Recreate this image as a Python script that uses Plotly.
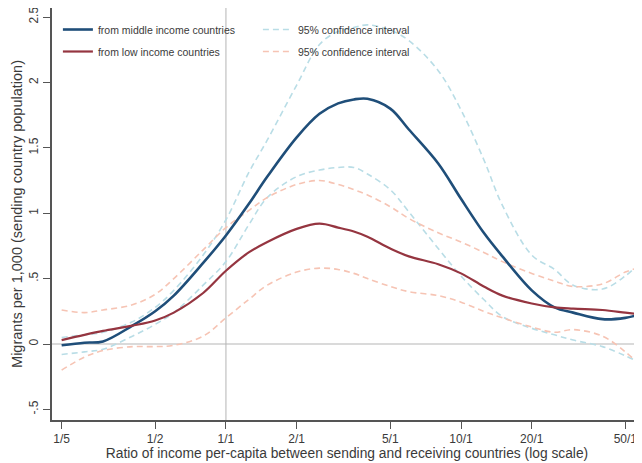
import plotly.graph_objects as go

# Ratio of income per-capita (sending / receiving), log scale
ratio = [0.2, 0.25, 0.3, 0.4, 0.5, 0.6, 0.8, 1, 1.25, 1.5, 2, 2.5, 3, 3.5, 4, 5, 6, 8,
         10, 12.5, 15, 20, 25, 30, 40, 50, 56]

middle = [-0.01, 0.01, 0.02, 0.14, 0.25, 0.37, 0.62, 0.83, 1.07, 1.28, 1.58, 1.76, 1.84,
          1.87, 1.875, 1.80, 1.64, 1.38, 1.11, 0.85, 0.67, 0.41, 0.28, 0.24, 0.19, 0.20, 0.22]
middle_hi = [0.05, 0.07, 0.09, 0.17, 0.28, 0.41, 0.68, 0.95, 1.31, 1.56, 1.98, 2.29, 2.39,
             2.42, 2.44, 2.40, 2.32, 2.09, 1.79, 1.41, 1.06, 0.68, 0.57, 0.45, 0.42, 0.52, 0.60]
middle_lo = [-0.08, -0.06, -0.04, 0.06, 0.15, 0.24, 0.45, 0.63, 0.91, 1.12, 1.28, 1.33, 1.35,
             1.35, 1.30, 1.18, 1.01, 0.73, 0.52, 0.34, 0.21, 0.12, 0.07, 0.03, -0.02, -0.09, -0.13]

low = [0.03, 0.07, 0.10, 0.14, 0.18, 0.24, 0.39, 0.56, 0.70, 0.78, 0.88, 0.92, 0.89, 0.86,
       0.82, 0.73, 0.67, 0.61, 0.54, 0.44, 0.37, 0.31, 0.28, 0.27, 0.26, 0.24, 0.23]
low_hi = [0.26, 0.24, 0.26, 0.30, 0.38, 0.50, 0.72, 0.89, 1.02, 1.12, 1.22, 1.25, 1.22, 1.18,
          1.14, 1.05, 0.96, 0.85, 0.78, 0.70, 0.63, 0.54, 0.48, 0.44, 0.46, 0.55, 0.58]
low_lo = [-0.20, -0.10, -0.05, -0.02, -0.02, -0.01, 0.06, 0.20, 0.34, 0.45, 0.55, 0.58, 0.57,
          0.54, 0.50, 0.44, 0.40, 0.37, 0.32, 0.25, 0.20, 0.13, 0.09, 0.11, 0.06, -0.06, -0.14]

x_tickvals = [0.2, 0.5, 1, 2, 5, 10, 20, 50]
x_ticktext = ["1/5", "1/2", "1/1", "2/1", "5/1", "10/1", "20/1", "50/1"]
y_tickvals = [-0.5, 0, 0.5, 1, 1.5, 2, 2.5]
y_ticktext = ["-.5", "0", ".5", "1", "1.5", "2", "2.5"]

NAVY = "#1f4e79"
MAROON = "#953540"
CYAN = "#b9dde6"
ROSE = "#f6c4b4"
TXT = "#3a3a3a"
FONT = "Liberation Sans, Arial, sans-serif"

fig = go.Figure()
dash = "6px,4px"

fig.add_trace(go.Scatter(x=ratio, y=middle_hi, mode="lines", name="95% confidence interval",
                         line=dict(color=CYAN, width=1.6, dash=dash, shape="spline"),
                         legend="legend2", legendgroup="c1"))
fig.add_trace(go.Scatter(x=ratio, y=middle_lo, mode="lines", showlegend=False,
                         line=dict(color=CYAN, width=1.6, dash=dash, shape="spline")))
fig.add_trace(go.Scatter(x=ratio, y=low_hi, mode="lines", name="95% confidence interval",
                         line=dict(color=ROSE, width=1.6, dash=dash, shape="spline"),
                         legend="legend2", legendgroup="c2"))
fig.add_trace(go.Scatter(x=ratio, y=low_lo, mode="lines", showlegend=False,
                         line=dict(color=ROSE, width=1.6, dash=dash, shape="spline")))
fig.add_trace(go.Scatter(x=ratio, y=middle, mode="lines", name="from middle income countries",
                         line=dict(color=NAVY, width=2.6, shape="spline"),
                         legend="legend", legendgroup="m1"))
fig.add_trace(go.Scatter(x=ratio, y=low, mode="lines", name="from low income countries",
                         line=dict(color=MAROON, width=2.2, shape="spline"),
                         legend="legend", legendgroup="m2"))

fig.add_vline(x=1, line=dict(color="#b5b5b5", width=1), layer="below")
fig.add_hline(y=0, line=dict(color="#b5b5b5", width=1), layer="below")

leg_common = dict(font=dict(family=FONT, size=10.5, color=TXT), bgcolor="rgba(0,0,0,0)",
                  xanchor="left", yanchor="top", tracegroupgap=3, itemwidth=30)
# page body adds an 8px offset; figure is sized to fill the rest of the window
fig.update_layout(
    width=634, height=455,
    margin=dict(l=44, r=0, t=0, b=43),
    paper_bgcolor="white", plot_bgcolor="white",
    font=dict(family=FONT, color=TXT),
    legend=dict(x=0.010, y=0.983, traceorder="grouped", **leg_common),
    legend2=dict(x=0.349, y=0.983, traceorder="grouped", **leg_common),
    xaxis=dict(type="log", range=[-0.740, 1.770], tickvals=x_tickvals, ticktext=x_ticktext,
               showgrid=False, zeroline=False, showline=True, linecolor="#555", linewidth=1.5,
               mirror=True, ticks="outside", ticklen=7, tickcolor="#555", automargin=False,
               ticklabeloverflow="allow",
               tickfont=dict(size=12, color=TXT),
               title=dict(text="Ratio of income per-capita between sending and receiving countries (log scale)",
                          font=dict(size=13.8, color=TXT), standoff=0)),
    yaxis=dict(range=[-0.581, 2.569], tickvals=y_tickvals, ticktext=y_ticktext,
               showgrid=False, zeroline=False, showline=True, linecolor="#555", linewidth=1.5,
               ticks="outside", ticklen=7, tickcolor="#555", tickangle=-90, automargin=False,
               ticklabeloverflow="allow",
               tickfont=dict(size=12, color=TXT),
               title=dict(text="Migrants per 1,000 (sending country population)",
                          font=dict(size=14.5, color=TXT), standoff=1)),
)

fig.write_html("out.html")
